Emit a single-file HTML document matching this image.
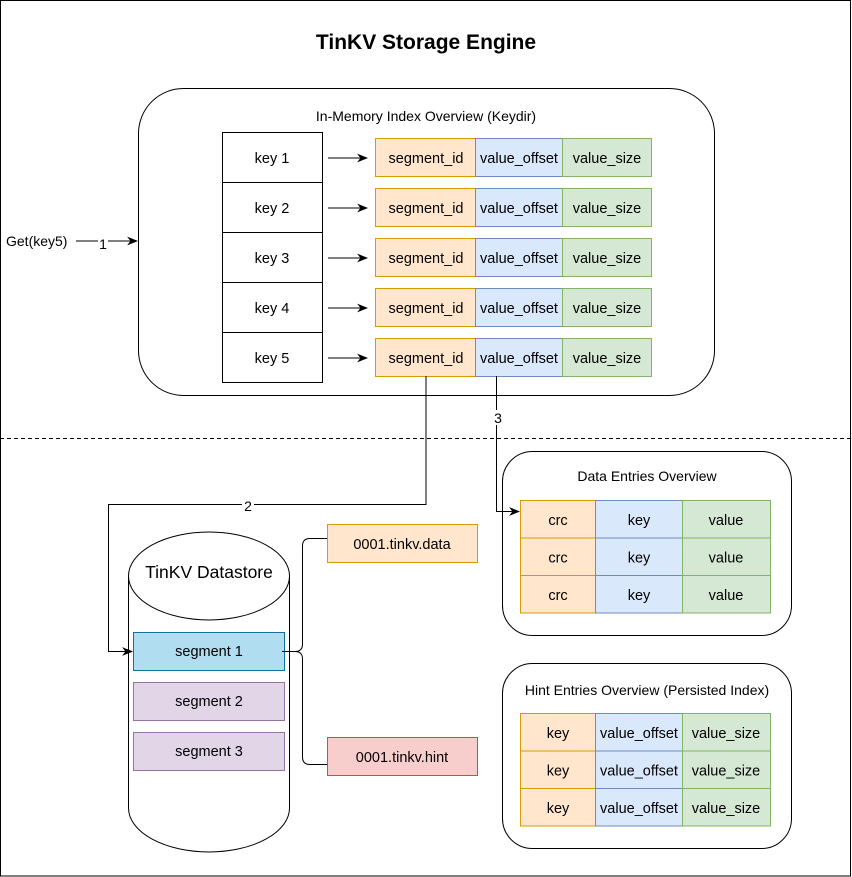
<!DOCTYPE html>
<html><head><style>
html,body{margin:0;padding:0;background:#fff;}
svg{display:block;font-family:"Liberation Sans",Arial,sans-serif;}
</style></head><body>
<svg width="852" height="877" viewBox="0 0 852 877" xmlns="http://www.w3.org/2000/svg">
<defs><marker id="a" viewBox="0 0 10 10" refX="9" refY="5" markerWidth="11" markerHeight="11" orient="auto"><path d="M0,1 L10,5 L0,9 L3,5 z" fill="#000"/></marker></defs>
<rect x="0.5" y="0.5" width="850" height="875.5" fill="#fff" stroke="#000"/>
<text x="426" y="49" font-size="21" font-weight="bold" text-anchor="middle">TinKV Storage Engine</text>
<rect x="138.5" y="88.5" width="576" height="307" rx="45" fill="#fff" stroke="#000"/>
<text x="426" y="121" font-size="14" text-anchor="middle">In-Memory Index Overview (Keydir)</text>
<g font-size="14.5" text-anchor="middle">
<g id="r">
<rect x="222.5" y="132.5" width="100" height="50" fill="#fff" stroke="#000"/>
<line x1="328" y1="158" x2="367" y2="158" stroke="#000" marker-end="url(#a)"/>
<rect x="375.5" y="138.5" width="100" height="38" fill="#ffe6cc" stroke="#d79b00"/>
<rect x="475.5" y="138.5" width="87" height="38" fill="#dae8fc" stroke="#6c8ebf"/>
<rect x="562.5" y="138.5" width="89" height="38" fill="#d5e8d4" stroke="#82b366"/>
<text x="426" y="163">segment_id</text><text x="519" y="163">value_offset</text><text x="607" y="163">value_size</text>
</g>
<use href="#r" y="50"/><use href="#r" y="100"/><use href="#r" y="150"/><use href="#r" y="200"/>
<text x="272" y="163">key 1</text><text x="272" y="213">key 2</text><text x="272" y="263">key 3</text><text x="272" y="313">key 4</text><text x="272" y="363">key 5</text>
</g>
<text x="6" y="246" font-size="14">Get(key5)</text>
<line x1="76" y1="241" x2="137" y2="241" stroke="#000" marker-end="url(#a)"/>
<rect x="98" y="236" width="10" height="14" fill="#fff"/><text x="103" y="249" font-size="14" text-anchor="middle">1</text>
<line x1="0" y1="438.5" x2="851" y2="438.5" stroke="#000" stroke-dasharray="4,3"/>
<path d="M128.5,576 L128.5,808 A80.5,44 0 0 0 289.5,808 L289.5,576" fill="#fff" stroke="#000"/>
<ellipse cx="209" cy="576" rx="80.5" ry="44" fill="#fff" stroke="#000"/>
<text x="209" y="578" font-size="17.5" text-anchor="middle">TinKV Datastore</text>
<rect x="133.5" y="632.5" width="151" height="38" fill="#b1ddf0" stroke="#10739e"/>
<rect x="133.5" y="682.5" width="151" height="38" fill="#e1d5e7" stroke="#9673a6"/>
<rect x="133.5" y="732.5" width="151" height="38" fill="#e1d5e7" stroke="#9673a6"/>
<g font-size="14.5" text-anchor="middle"><text x="209" y="656">segment 1</text><text x="209" y="706">segment 2</text><text x="209" y="756">segment 3</text></g>
<path d="M282,651.5 L295,651.5 Q302.5,651.5 302.5,644 L302.5,546 Q302.5,538.5 310,538.5 L327,538.5 M295,651.5 Q302.5,651.5 302.5,659 L302.5,757 Q302.5,764.5 310,764.5 L327,764.5" fill="none" stroke="#000"/>
<rect x="327.5" y="524.5" width="150" height="38" fill="#ffe6cc" stroke="#d79b00"/>
<rect x="327.5" y="737.5" width="150" height="38" fill="#f8cecc" stroke="#b85450"/>
<g font-size="14.5" text-anchor="middle"><text x="402" y="549">0001.tinkv.data</text><text x="402" y="762">0001.tinkv.hint</text></g>
<rect x="502.5" y="451.5" width="289" height="184" rx="30" fill="#fff" stroke="#000"/>
<text x="647" y="481" font-size="14" text-anchor="middle">Data Entries Overview</text>
<rect x="502.5" y="663.5" width="289" height="185" rx="30" fill="#fff" stroke="#000"/>
<text x="647" y="695" font-size="14" text-anchor="middle">Hint Entries Overview (Persisted Index)</text>
<g font-size="14.5" text-anchor="middle">
<g id="d"><rect x="520.5" y="500.5" width="75" height="37.5" fill="#ffe6cc" stroke="#d79b00"/><rect x="595.5" y="500.5" width="87" height="37.5" fill="#dae8fc" stroke="#6c8ebf"/><rect x="682.5" y="500.5" width="88" height="37.5" fill="#d5e8d4" stroke="#82b366"/><text x="558" y="525">crc</text><text x="639" y="525">key</text><text x="726" y="525">value</text></g>
<use href="#d" y="37.5"/><use href="#d" y="75"/>
<g id="h"><rect x="520.5" y="713.5" width="75" height="37.5" fill="#ffe6cc" stroke="#d79b00"/><rect x="595.5" y="713.5" width="87" height="37.5" fill="#dae8fc" stroke="#6c8ebf"/><rect x="682.5" y="713.5" width="88" height="37.5" fill="#d5e8d4" stroke="#82b366"/><text x="558" y="738">key</text><text x="639" y="738">value_offset</text><text x="726" y="738">value_size</text></g>
<use href="#h" y="37.5"/><use href="#h" y="75"/>
</g>
<polyline points="426,376 426,504.5 108.5,504.5 108.5,651.5 132,651.5" fill="none" stroke="#000" marker-end="url(#a)"/>
<rect x="242" y="498" width="12" height="14" fill="#fff"/><text x="248" y="511" font-size="14" text-anchor="middle">2</text>
<polyline points="496.5,376 496.5,511.5 519,511.5" fill="none" stroke="#000" marker-end="url(#a)"/>
<rect x="491" y="410" width="12" height="15" fill="#fff"/><text x="498" y="423" font-size="14" text-anchor="middle">3</text>
</svg>
</body></html>
